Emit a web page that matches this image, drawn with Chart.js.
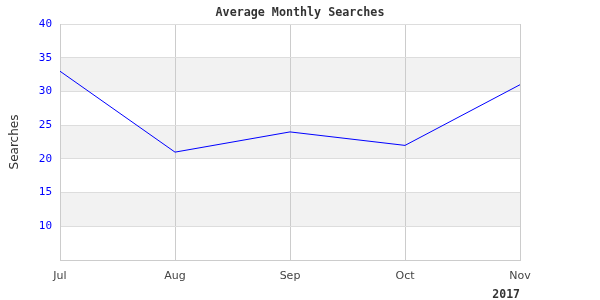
<!DOCTYPE html>
<html>
<head>
<meta charset="utf-8">
<script src="https://cdn.jsdelivr.net/npm/chart.js@4/dist/chart.umd.min.js"></script>
<style>
html,body{margin:0;padding:0;background:#fff;}
#wrap{width:600px;height:300px;position:relative;}
</style>
</head>
<body>
<div id="wrap"><canvas id="c" width="600" height="300"></canvas></div>
<script>
const categories = ['Jul', 'Aug', 'Sep', 'Oct', 'Nov'];
const searches = [33, 21, 24, 22, 31];
const yTickMin = 5;
const yTickMax = 40;
const yTickStep = 5;
const chartTitle = 'Average Monthly Searches';
const yAxisTitle = 'Searches';
const xAxisTitle = '2017';

const bandPlugin = {
  id: 'bands',
  beforeDraw(chart) {
    const {ctx, chartArea, scales} = chart;
    const y = scales.y;
    const ticks = y.ticks.map(t => t.value);
    ctx.save();
    ctx.fillStyle = '#f2f2f2';
    for (let i = 0; i < ticks.length - 1; i++) {
      if (i % 2 === 1) {
        const a = y.getPixelForValue(ticks[i]);
        const b = y.getPixelForValue(ticks[i + 1]);
        ctx.fillRect(chartArea.left, Math.min(a, b), chartArea.right - chartArea.left, Math.abs(a - b));
      }
    }
    ctx.restore();
  }
};

new Chart(document.getElementById('c'), {
  type: 'line',
  data: {
    labels: categories,
    datasets: [{
      data: searches,
      borderColor: '#0000ff',
      borderWidth: 1,
      pointRadius: 0,
      tension: 0,
      fill: false
    }]
  },
  options: {
    responsive: false,
    animation: false,
    devicePixelRatio: 1,
    layout: {padding: 0},
    plugins: {
      legend: {display: false},
      tooltip: {enabled: false},
      title: {
        display: true,
        text: chartTitle,
        color: '#333',
        font: {family: 'DejaVu Sans Mono', size: 11.7, weight: 'bold', lineHeight: 1.2},
        padding: {top: 6, bottom: 4}
      }
    },
    scales: {
      x: {
        offset: false,
        grid: {color: '#cccccc', drawTicks: false, lineWidth: 1},
        border: {color: '#cccccc'},
        ticks: {color: '#444', font: {family: 'DejaVu Sans', size: 11}, padding: 10, maxRotation: 0, autoSkip: false},
        title: {
          display: true,
          text: xAxisTitle,
          align: 'end',
          color: '#333',
          font: {family: 'DejaVu Sans Mono', size: 11.5, weight: 'bold', lineHeight: 1.0},
          padding: {top: 0, bottom: -1}
        },
        afterFit(scale) { scale.height = 40; }
      },
      y: {
        min: yTickMin,
        max: yTickMax,
        grid: {color: '#dddddd', drawTicks: false, lineWidth: 1},
        border: {color: '#cccccc'},
        ticks: {
          stepSize: yTickStep,
          color: '#0000ff',
          font: {family: 'DejaVu Sans Mono', size: 11},
          padding: 8,
          callback: (v) => v === yTickMin ? '' : String(v)
        },
        title: {
          display: true,
          text: yAxisTitle,
          color: '#333',
          font: {family: 'DejaVu Sans', size: 12},
          padding: {top: 8, bottom: 0}
        },
        afterFit(scale) { scale.width = 60; }
      },
      spacer: {
        type: 'linear',
        position: 'right',
        display: true,
        grid: {display: false, drawTicks: false},
        border: {display: false},
        ticks: {display: false},
        afterFit(scale) { scale.width = 80; }
      }
    }
  },
  plugins: [bandPlugin]
});
</script>
</body>
</html>
